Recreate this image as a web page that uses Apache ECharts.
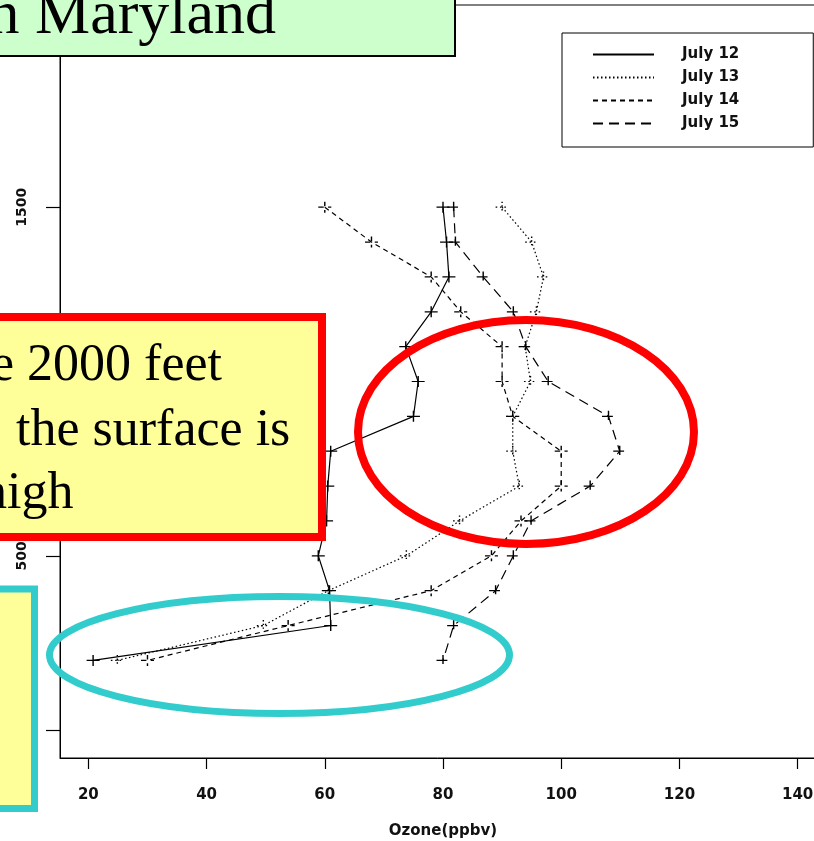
<!DOCTYPE html>
<html>
<head>
<meta charset="utf-8">
<script src="https://cdn.jsdelivr.net/npm/echarts@6/dist/echarts.min.js"></script>
<style>
html,body{margin:0;padding:0;background:#fff;}
#chart{width:814px;height:841px;}
</style>
</head>
<body>
<div id="chart"></div>
<script>
// ---- data ----
var altitudes = [1500, 1400, 1300, 1200, 1100, 1000, 900, 800, 700, 600, 500, 400, 300, 200];
var july12 = [80, 80.6, 81, 78, 73.7, 75.8, 75, 61, 60.5, 60.3, 58.9, 60.8, 61, 20.8];
var july13 = [90, 95, 97, 95.8, 93.9, 94.8, 91.8, 91.8, 92.9, 82.8, 73.8, 60.6, 49.6, 24.9];
var july14 = [60, 67.9, 78, 83, 90, 90, 91.8, 100, 100, 93.2, 88.2, 78, 53.8, 30];
var july15 = [81.8, 82.1, 86.8, 91.9, 94, 97.8, 108, 109.9, 104.9, 94.9, 91.9, 88.9, 81.8, 80];
var seriesNames = ['July 12', 'July 13', 'July 14', 'July 15'];
var xTicks = [20, 40, 60, 80, 100, 120, 140];
var yTicks = [0, 500, 1000, 1500, 2000];
var xAxisTitle = 'Ozone(ppbv)';
var titleText = 'n Maryland';
var noteLines = ['e 2000 feet', 'the surface is', 'high'];

function pairs(vals) {
  return vals.map(function (v, i) { return [v, altitudes[i]]; });
}
var dashes = ['solid', [1.5, 2.5], [5, 4], [10, 6]];
var allVals = [july12, july13, july14, july15];
var plus = 'path://M0,6L12,6M6,0L6,12';

var series = allVals.map(function (vals, i) {
  return {
    name: seriesNames[i],
    type: 'line',
    data: pairs(vals),
    symbol: plus,
    symbolSize: [13, 11],
    lineStyle: { color: '#000', width: 1.2, type: dashes[i] },
    itemStyle: { color: '#000', borderColor: '#000', borderWidth: 1.3, borderType: dashes[i] },
    z: 3
  };
});

function plain(v) { return String(v); }

var chart = echarts.init(document.getElementById('chart'), null, { renderer: 'canvas' });
chart.setOption({
  animation: false,
  backgroundColor: '#fff',
  grid: {
    left: 60, top: 5, width: 766, height: 753,
    containLabel: false,
    outerBoundsMode: 'none',
    show: true, borderColor: '#000', borderWidth: 1, backgroundColor: 'transparent'
  },
  xAxis: {
    type: 'value', min: 15.2, max: 144.8,
    name: xAxisTitle, nameLocation: 'middle', nameGap: 66,
    nameTextStyle: { fontFamily: 'DejaVu Sans', fontWeight: 'bold', fontSize: 15, color: '#111' },
    axisLine: { show: true, onZero: false, lineStyle: { color: '#000', width: 1 } },
    axisTick: { show: true, inside: false, length: 11, customValues: xTicks, lineStyle: { color: '#000', width: 1.2 } },
    axisLabel: { show: true, margin: 30, customValues: xTicks, formatter: plain, fontFamily: 'DejaVu Sans', fontWeight: 'bold', fontSize: 15, color: '#111' },
    splitLine: { show: false }
  },
  yAxis: {
    type: 'value', min: -80, max: 2080,
    axisLine: { show: true, onZero: false, lineStyle: { color: '#000', width: 1 } },
    axisTick: { show: true, inside: false, length: 14, customValues: yTicks, lineStyle: { color: '#000', width: 1.2 } },
    axisLabel: { show: true, rotate: 90, margin: 31, customValues: yTicks, formatter: plain, fontFamily: 'DejaVu Sans', fontWeight: 'bold', fontSize: 14, color: '#111' },
    splitLine: { show: false }
  },
  legend: {
    data: seriesNames,
    orient: 'vertical',
    left: 562, top: 33,
    padding: [14, 74, 16, 30],
    itemWidth: 61, itemHeight: 15, itemGap: 8,
    borderColor: '#000', borderWidth: 1, backgroundColor: '#fff',
    itemStyle: { opacity: 0 },
    textStyle: { fontFamily: 'DejaVu Sans', fontWeight: 'bold', fontSize: 15, lineHeight: 15, color: '#111', padding: [0, 0, 0, 23] },
    selectedMode: false
  },
  series: series,
  graphic: [
    { type: 'rect', z: 100, shape: { x: -10, y: -10, width: 465, height: 66 },
      style: { fill: '#CCFFCC', stroke: '#000', lineWidth: 2 } },
    { type: 'text', z: 101, x: -11.5, y: 17,
      style: { text: titleText, font: '62px "Liberation Serif"', fill: '#000', verticalAlign: 'middle', align: 'left' } },
    { type: 'ellipse', z: 100, shape: { cx: 526, cy: 432, rx: 168, ry: 112 },
      style: { fill: 'none', stroke: '#FF0000', lineWidth: 8 } },
    { type: 'ellipse', z: 100, shape: { cx: 279.5, cy: 655, rx: 230, ry: 58.5 },
      style: { fill: 'none', stroke: '#33CCCC', lineWidth: 7 } },
    { type: 'rect', z: 100, shape: { x: -10, y: 317, width: 332, height: 220 },
      style: { fill: '#FFFF99', stroke: '#FF0000', lineWidth: 8 } },
    { type: 'text', z: 101, x: -9, y: 366,
      style: { text: noteLines[0], font: '52px "Liberation Serif"', fill: '#000', verticalAlign: 'middle', align: 'left' } },
    { type: 'text', z: 101, x: 16, y: 431,
      style: { text: noteLines[1], font: '52px "Liberation Serif"', fill: '#000', verticalAlign: 'middle', align: 'left' } },
    { type: 'text', z: 101, x: -19, y: 494,
      style: { text: noteLines[2], font: '52px "Liberation Serif"', fill: '#000', verticalAlign: 'middle', align: 'left' } },
    { type: 'rect', z: 100, shape: { x: -10, y: 589, width: 44.5, height: 219.5 },
      style: { fill: '#FFFF99', stroke: '#33CCCC', lineWidth: 7 } }
  ]
});
</script>
</body>
</html>
